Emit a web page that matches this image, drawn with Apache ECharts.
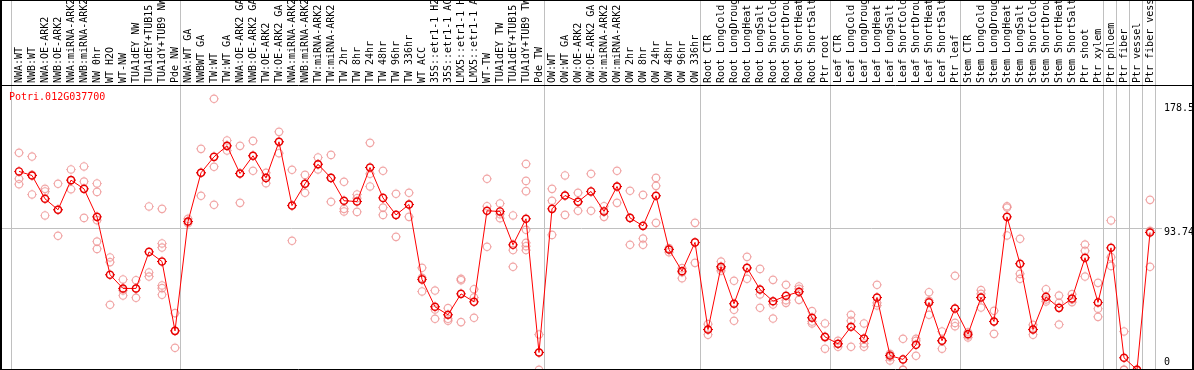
<!DOCTYPE html>
<html><head><meta charset="utf-8">
<script src="https://cdn.jsdelivr.net/npm/echarts@6/dist/echarts.min.js"></script>
<style>html,body{margin:0;padding:0;background:#fff}#c{width:1194px;height:370px}</style>
</head><body><div id="c"></div>
<script>
const geneId = 'Potri.012G037700';

const categories = [
'NWA:WT','NWB:WT','NWA:OE-ARK2','NWB:OE-ARK2','NWA:miRNA-ARK2','NWB:miRNA-ARK2','NW 0hr','WT H2O','WT-NW','TUA1dEY NW','TUA1dEY+TUB15 NW','TUA1dY+TUB9 NW','Pde NW',
'NWA:WT GA','NWBWT GA','TW:WT','TW:WT GA','NWA:OE-ARK2 GA','NWB:OE-ARK2 GA','TW:OE-ARK2','TW:OE-ARK2 GA','NWA:miRNA-ARK2','NWB:miRNA-ARK2','TW:miRNA-ARK2','TW:miRNA-ARK2','TW 2hr','TW 8hr','TW 24hr','TW 48hr','TW 96hr','TW 336hr','WT ACC','35S::etr1-1 H2O','35S::etr1-1 ACC','LMX5::etr1-1 H2O','LMX5::etr1-1 ACC','WT-TW','TUA1dEY TW','TUA1dEY+TUB15 TW','TUA1dY+TUB9 TW','Pde TW',
'OW:WT','OW:WT GA','OW:OE-ARK2','OW:OE-ARK2 GA','OW:miRNA-ARK2','OW:miRNA-ARK2','OW 2hr','OW 8hr','OW 24hr','OW 48hr','OW 96hr','OW 336hr',
'Root CTR','Root LongCold','Root LongDrought','Root LongHeat','Root LongSalt','Root ShortCold','Root ShortDrought','Root ShortHeat','Root ShortSalt','Ptr root',
'Leaf CTR','Leaf LongCold','Leaf LongDrought','Leaf LongHeat','Leaf LongSalt','Leaf ShortCold','Leaf ShortDrought','Leaf ShortHeat','Leaf ShortSalt','Ptr leaf',
'Stem CTR','Stem LongCold','Stem LongDrought','Stem LongHeat','Stem LongSalt','Stem ShortCold','Stem ShortDrought','Stem ShortHeat','Stem ShortSalt','Ptr shoot','Ptr xylem',
'Ptr phloem','Ptr fiber','Ptr vessel','Ptr fiber vessel'
];

const means = [
131.9,129.2,113.7,106.4,126.1,120.3,101.7,63.2,54.1,54.1,78.4,72.0,25.9,
98.6,131.0,141.6,148.9,130.5,142.3,127.6,151.6,109.2,123.7,136.7,127.6,112.4,111.9,134.5,114.3,103.0,109.9,60.1,41.9,36.6,50.5,45.2,105.7,105.3,83.1,100.4,11.5,
107.0,115.9,111.7,118.6,105.3,121.9,101.0,95.7,115.7,80.0,65.6,84.7,
26.8,68.5,43.9,67.8,53.4,45.6,49.2,51.9,34.6,21.9,
17.3,28.6,20.8,48.1,9.5,6.9,16.6,44.8,19.3,40.8,
23.7,48.1,32.1,101.7,70.5,26.8,48.5,41.2,47.4,74.5,44.8,
81.1,8.0,0,91.3
];

const replicates = [
[144.3,127.0,123.4],[141.8,129.6,116.6],[120.3,118.6,102.6],[123.7,106.4,89.1],[133.2,126.1,120.1],[135.2,125.2,101.0],
[123.9,118.3,99.5,85.3,80.4],[74.7,71.6,43.2],[60.1,52.7,49.4],[59.6,54.1,47.9],[108.6,64.7,62.0],
[107.0,84.0,81.3,56.1,54.3,49.9],[37.7,25.9,14.6],
[100.4,98.6,97.5],[146.9,131.0,115.7],[180.2,135.0,109.7],[152.5,148.9,145.8],[148.9,130.5,111.0],[152.2,142.3,132.3],
[131.0,127.6,124.1],[158.2,151.6,144.0],[133.0,109.2,85.8],[129.6,123.7,117.7],[141.2,136.7,133.2],[142.9,127.6,111.7],
[125.0,107.0,105.3],[116.6,114.1,105.0],[150.9,130.3,121.9],[132.3,107.9,103.0],[117.0,103.0,88.4],[117.7,109.9,101.7],
[67.8,61.2,52.1],[52.7,40.1,33.9],[41.0,33.9,32.6],[60.5,59.6,31.7],[53.6,48.1,34.6],[127.0,108.8,81.8],
[110.6,103.5,100.8],[102.6,79.6,68.5],[136.9,125.6,118.8,93.1,84.4,82.2,79.6],[23.5,11.7,0],
[120.3,112.4,89.7],[129.2,115.9,103.0],[117.7,111.7,105.7],[130.3,118.6,105.7],[108.8,105.3,101.7],[132.3,121.9,111.0],
[119.0,101.0,83.1],[116.3,87.3,83.1],[127.6,122.3,97.7],[80.9,80.0,78.2],[67.6,64.9,60.9],[97.7,84.7,71.1],
[30.4,26.8,23.3],[72.0,67.6,65.8],[59.2,39.9,32.6],[75.1,67.6,60.5],[67.1,50.1,41.2],[59.8,43.4,34.1],
[56.5,46.3,44.5],[55.4,53.8,46.5],[39.0,32.1,30.8],[30.8,21.5,14.0],
[19.3,17.1,15.3],[36.6,32.6,15.3],[30.8,17.5,15.3],[56.5,44.5,42.8],[10.6,8.4,6.2],[20.6,0,0],
[20.6,19.3,9.3],[51.6,45.9,36.6],[25.5,19.3,14.0],[62.5,31.2,29.0],
[25.0,22.8,21.5],[53.0,50.5,41.4],[39.2,32.1,23.9],[108.8,107.9,89.3],[87.1,63.8,60.5],[29.9,26.8,23.3],
[53.6,46.8,45.4],[49.4,44.5,30.1],[50.3,46.8,45.0],[83.3,79.1,62.0],[57.8,40.6,35.2],
[99.3,74.9,69.1],[25.5,0,0],[0,0,0],[113.0,92.4,68.5]
];

const tickValues = [178.5, 93.74, 0];
const tickLabels = ['178.5', '93.74', '0'];
const referenceValue = 93.74;
// index of last category in each group (-1 = left edge)
const groupEnds = [-1, 12, 40, 52, 62, 72, 83, 84, 85, 86, 87];

const FONT = '"DejaVu Sans Mono", monospace';
// ring with four tiny ticks, in a 12x12 box
const repSymbol = 'path://M1.2,6A4.8,4.8,0,1,1,10.8,6A4.8,4.8,0,1,1,1.2,6ZM2.5,6A3.5,3.5,0,1,0,9.5,6A3.5,3.5,0,1,0,2.5,6ZM5.6,0.4H6.4V1.3H5.6ZM5.6,10.7H6.4V11.6H5.6ZM0.4,5.6H1.3V6.4H0.4ZM10.7,5.6H11.6V6.4H10.7Z';
const meanSymbol = 'path://M1.1,6A4.9,4.9,0,1,1,10.9,6A4.9,4.9,0,1,1,1.1,6ZM2.8,6A3.2,3.2,0,1,0,9.2,6A3.2,3.2,0,1,0,2.8,6ZM5.5,0.3H6.5V1.3H5.5ZM5.5,10.7H6.5V11.7H5.5ZM0.3,5.5H1.3V6.5H0.3ZM10.7,5.5H11.7V6.5H10.7Z';

const repData = [];
replicates.forEach((arr, i) => arr.forEach(v => repData.push([i, v])));

const chart = echarts.init(document.getElementById('c'), null, {renderer: 'canvas'});
chart.setOption({
  animation: false,
  backgroundColor: '#ffffff',
  title: {
    text: geneId, left: 9, top: 92, padding: 0,
    textStyle: {color: '#ff0000', fontFamily: FONT, fontSize: 10, fontWeight: 'normal'}
  },
  grid: {left: 12.5, right: 37.5, top: 86, bottom: 0.2, containLabel: false, outerBoundsMode: 'none'},
  xAxis: {
    type: 'category', position: 'top', data: categories, boundaryGap: true,
    axisLine: {show: false}, axisTick: {show: false}, splitLine: {show: false},
    axisLabel: {interval: 0, rotate: 90, margin: 3, color: '#000', fontFamily: FONT, fontSize: 10, hideOverlap: false}
  },
  yAxis: {type: 'value', min: 0, max: 188.7, show: false, splitLine: {show: false}},
  series: [
    {
      type: 'scatter', data: repData, symbol: repSymbol, symbolSize: 10, clip: false, z: 1,
      itemStyle: {color: '#ee9090', borderWidth: 0}, silent: true
    },
    {
      type: 'line', data: means, symbol: meanSymbol, symbolSize: 10, showAllSymbol: true, clip: false, z: 3,
      lineStyle: {color: '#ff0000', width: 1}, itemStyle: {color: '#e80000', borderWidth: 0}, silent: true
    }
  ]
});

const xPix = v => chart.convertToPixel({xAxisIndex: 0}, v);
const yPix = v => chart.convertToPixel({yAxisIndex: 0}, v);
const band = xPix(1) - xPix(0);
const crisp = v => Math.floor(v) + 0.5;
const graphics = [];
const GRID = '#c0c0c0';
groupEnds.forEach(e => {
  const x = crisp(xPix(0) + (e + 0.5) * band - 1);
  graphics.push({type: 'line', silent: true, z: 0, shape: {x1: x, y1: 0, x2: x, y2: 370}, style: {stroke: GRID, lineWidth: 1}});
});
const yRef = crisp(yPix(referenceValue));
graphics.push({type: 'line', silent: true, z: 0, shape: {x1: 1, y1: yRef, x2: 1162, y2: yRef}, style: {stroke: GRID, lineWidth: 1}});
// frame
const frame = [[1, 0, 1, 370, 2], [0, 0.5, 1194, 0.5, 1], [0, 369.5, 1194, 369.5, 1], [1193, 0, 1193, 370, 2], [0, 85.5, 1194, 85.5, 1]];
frame.forEach(f => graphics.push({type: 'line', silent: true, z: 10, shape: {x1: f[0], y1: f[1], x2: f[2], y2: f[3]}, style: {stroke: '#000', lineWidth: f[4]}}));
const labelShift = [7, 3.5, -7.5];
tickValues.forEach((v, i) => {
  graphics.push({type: 'text', silent: true, z: 10, x: 1164, y: yPix(v) + labelShift[i],
    style: {text: tickLabels[i], fill: '#000', font: '10px ' + FONT, align: 'left', verticalAlign: 'middle'}});
});
chart.setOption({graphic: graphics});
</script>
</body></html>
